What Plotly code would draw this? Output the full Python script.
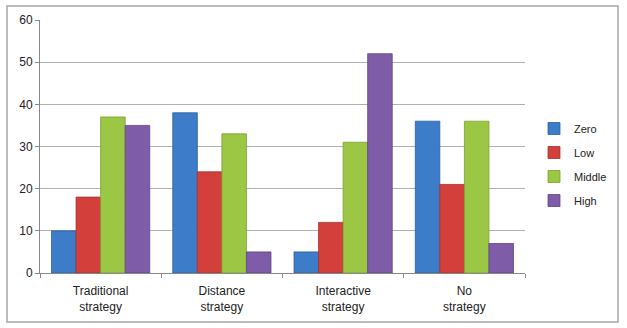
import plotly.graph_objects as go

categories = ["Traditional<br>strategy", "Distance<br>strategy", "Interactive<br>strategy", "No<br>strategy"]
series_names = ["Zero", "Low", "Middle", "High"]
zero = [10, 38, 5, 36]
low = [18, 24, 12, 21]
middle = [37, 33, 31, 36]
high = [35, 5, 52, 7]
y_ticks = [0, 10, 20, 30, 40, 50, 60]

colors = ["#3d7cc9", "#d33f3b", "#9cc744", "#7e5ca8"]
edges = ["#2c5f9e", "#a82e2b", "#7a9e30", "#5f4482"]

fig = go.Figure()
for i, (name, vals) in enumerate(zip(series_names, [zero, low, middle, high])):
    fig.add_trace(go.Bar(
        x=categories, y=vals, name=name,
        marker=dict(color=colors[i], line=dict(color=edges[i], width=0.8)),
        legendgroup=name,
    ))

W, H = 627, 328
l, r, t, b = 40, 102, 20, 55
pw, ph = W - l - r, H - t - b

def px_to_paper_x(px):
    return (px - l) / pw

def px_to_paper_y(py):
    return (H - b - py) / ph

fig.add_shape(type="rect", xref="paper", yref="paper",
              x0=px_to_paper_x(7), x1=px_to_paper_x(618),
              y0=px_to_paper_y(322), y1=px_to_paper_y(6),
              line=dict(color="#a6a6a6", width=1.5), layer="below")

fig.update_layout(
    width=W, height=H,
    margin=dict(l=l, r=r, t=t, b=b),
    paper_bgcolor="white", plot_bgcolor="white",
    barmode="group", bargap=0.19, bargroupgap=0,
    font=dict(family="Liberation Sans, Arial, sans-serif", size=12, color="#222"),
    showlegend=True,
    legend=dict(x=px_to_paper_x(534), y=px_to_paper_y(114), xanchor="left", yanchor="top",
                font=dict(size=11, color="#222"), tracegroupgap=5,
                itemwidth=30, bgcolor="rgba(0,0,0,0)"),
    xaxis=dict(showline=True, linecolor="#888", linewidth=1, ticks="outside",
               tickson="boundaries", ticklen=4, tickcolor="#888", ticklabelstandoff=7,
               tickfont=dict(size=12, color="#222"), showgrid=False),
    yaxis=dict(range=[0, 60], tickvals=y_ticks, showgrid=True, gridcolor="#b0b0b0",
               gridwidth=1, showline=True, linecolor="#888", linewidth=1,
               ticks="outside", ticklen=4, tickcolor="#888",
               tickfont=dict(size=12, color="#222"), zeroline=False),
)

fig.write_html("out.html")
